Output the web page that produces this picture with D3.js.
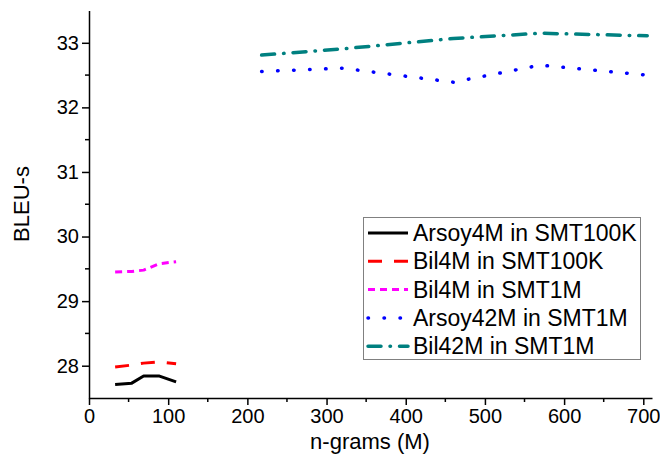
<!DOCTYPE html>
<html>
<head>
<meta charset="utf-8">
<script src="https://cdn.jsdelivr.net/npm/d3@7"></script>
<style>
  body { margin: 0; background: #fff; }
  svg { display: block; }
  svg text { font-family: "Liberation Sans", Arial, Helvetica, sans-serif; fill: #000; }
</style>
</head>
<body>
<svg id="chart" width="660" height="457"></svg>
<script>
// ---- data ----
const seriesNames = ["Arsoy4M in SMT100K", "Bil4M in SMT100K", "Bil4M in SMT1M", "Arsoy42M in SMT1M", "Bil42M in SMT1M"];
const xSmall = [33, 54, 69, 89, 110];
const xLarge = [218, 320, 460, 570, 705];
const arsoy4M_100K = [27.71, 27.73, 27.84, 27.84, 27.75];
const bil4M_100K   = [27.98, 28.01, 28.04, 28.06, 28.03];
const bil4M_1M     = [29.45, 29.46, 29.48, 29.58, 29.61];
const arsoy42M_1M  = [32.556, 32.607, 32.39, 32.654, 32.50];
const bil42M_1M    = [32.81, 32.906, 33.067, 33.148, 33.108];
const xTicks = [0, 100, 200, 300, 400, 500, 600, 700];
const yTicks = [28, 29, 30, 31, 32, 33];

// ---- styles ----
const styles = [
  { color: "#000000", width: 3, dash: null, cap: "butt" },
  { color: "#ff0000", width: 3, dash: "14,12", cap: "butt" },
  { color: "#ff00ff", width: 3, dash: "7,5", cap: "butt" },
  { color: "#0000ff", width: 3.5, dash: "0.5,15.5", cap: "round" },
  { color: "#008080", width: 3.5, dash: "13,9,0.5,9", cap: "round" }
];

const seriesData = [
  { x: xSmall, y: arsoy4M_100K },
  { x: xSmall, y: bil4M_100K },
  { x: xSmall, y: bil4M_1M },
  { x: xLarge, y: arsoy42M_1M },
  { x: xLarge, y: bil42M_1M }
];

const FONT = "'Liberation Sans', Arial, Helvetica, sans-serif";
const svg = d3.select("#chart");
const x = d3.scaleLinear().domain([0, 711]).range([89, 652]);
const y = d3.scaleLinear().domain([27.5, 33.5]).range([398, 10.5]);

const xMinor = d3.range(50, 711, 100);
const yMinor = d3.range(28.5, 33.5, 1);

const xAxis = d3.axisBottom(x).tickValues(xTicks).tickFormat(d3.format("d"))
  .tickSize(7).tickSizeOuter(0).tickPadding(4);
const gx = svg.append("g").attr("transform", "translate(0,398)").call(xAxis);
gx.append("g").selectAll("line").data(xMinor).join("line")
  .attr("x1", d => x(d)).attr("x2", d => x(d)).attr("y1", 0).attr("y2", 4)
  .attr("stroke", "#000").attr("stroke-width", 1.5);

const yAxis = d3.axisLeft(y).tickValues(yTicks).tickFormat(d3.format("d"))
  .tickSize(7).tickSizeOuter(0).tickPadding(3);
const gy = svg.append("g").attr("transform", "translate(89,0)").call(yAxis);
gy.append("g").selectAll("line").data(yMinor).join("line")
  .attr("y1", d => y(d)).attr("y2", d => y(d)).attr("x1", 0).attr("x2", -4)
  .attr("stroke", "#000").attr("stroke-width", 1.5);

[gx, gy].forEach(g => {
  g.attr("font-family", FONT);
  g.select(".domain").attr("stroke", "#000").attr("stroke-width", 1.5);
  g.selectAll(".tick line").attr("stroke", "#000").attr("stroke-width", 1.5);
  g.selectAll(".tick text").attr("fill", "#000").style("font-size", "20px").style("font-family", FONT);
});

// axis titles
svg.append("text").attr("x", 370).attr("y", 449).attr("text-anchor", "middle")
  .style("font-size", "22px").style("font-family", FONT).text("n-grams (M)");
svg.append("text").attr("transform", "translate(29,204) rotate(-90)").attr("text-anchor", "middle")
  .style("font-size", "22px").style("font-family", FONT).text("BLEU-s");

// lines
const line = d3.line().x(d => x(d[0])).y(d => y(d[1]));
seriesData.forEach((s, i) => {
  const pts = s.x.map((v, j) => [v, s.y[j]]);
  const st = styles[i];
  svg.append("path").datum(pts).attr("d", line)
    .attr("fill", "none").attr("stroke", st.color).attr("stroke-width", st.width)
    .attr("stroke-linecap", st.cap).attr("stroke-linejoin", "round")
    .attr("stroke-dasharray", st.dash);
});

// legend
const lg = svg.append("g");
lg.append("rect").attr("x", 363.5).attr("y", 217.5).attr("width", 277).attr("height", 142)
  .attr("fill", "#fff").attr("stroke", "#808080").attr("stroke-width", 1);
seriesNames.forEach((name, i) => {
  const cy = 233 + i * 28.3;
  const st = styles[i];
  lg.append("line").attr("x1", 368).attr("x2", 408).attr("y1", cy).attr("y2", cy)
    .attr("stroke", st.color).attr("stroke-width", st.width)
    .attr("stroke-linecap", st.cap).attr("stroke-dasharray", st.dash);
  lg.append("text").attr("x", 413).attr("y", cy + 8).style("font-size", "23px")
    .style("font-family", FONT).text(name);
});
</script>
</body>
</html>
